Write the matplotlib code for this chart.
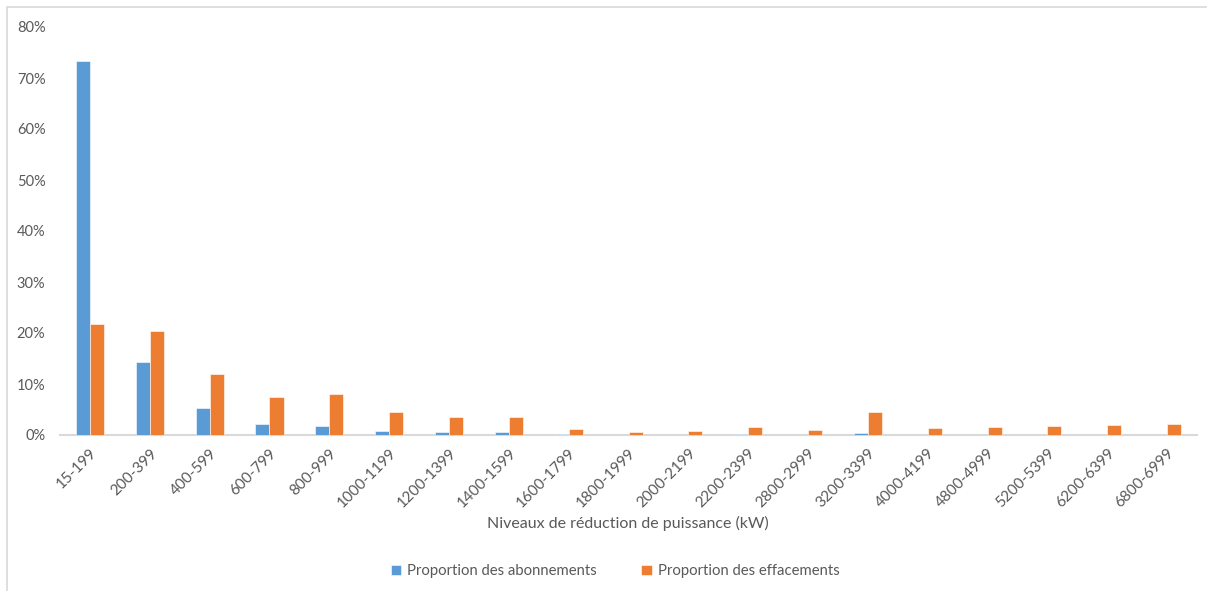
import matplotlib

matplotlib.use("Agg")
import matplotlib.pyplot as plt
import numpy as np
from matplotlib.patches import Rectangle

CATEGORIES = [
    "15-199", "200-399", "400-599", "600-799", "800-999", "1000-1199",
    "1200-1399", "1400-1599", "1600-1799", "1800-1999", "2000-2199",
    "2200-2399", "2800-2999", "3200-3399", "4000-4199", "4800-4999",
    "5200-5399", "6200-6399", "6800-6999",
]
# proportions in %
ABONNEMENTS = [73.3, 14.3, 5.2, 2.2, 1.8, 0.8, 0.5, 0.5, 0.1, 0.05, 0.05,
               0.1, 0.05, 0.3, 0.05, 0.05, 0.05, 0.05, 0.05]
EFFACEMENTS = [21.7, 20.3, 12.0, 7.5, 8.0, 4.45, 3.6, 3.5, 1.2, 0.6, 0.8,
               1.6, 1.0, 4.5, 1.3, 1.6, 1.7, 2.0, 2.2]
YTICKS = [0, 10, 20, 30, 40, 50, 60, 70, 80]

BLUE = "#5B9BD5"
ORANGE = "#ED7D31"
TEXT = "#595959"
LINE = "#D9D9D9"

plt.rcParams["font.family"] = ["Lato", "DejaVu Sans"]

fig = plt.figure(figsize=(12.07, 5.91), dpi=100)
ax = fig.add_axes([60 / 1207, 156 / 591, 1137 / 1207, 408 / 591])

x = np.arange(len(CATEGORIES))
w = 0.235
ax.bar(x - w / 2, ABONNEMENTS, w, color=BLUE, edgecolor="white", lw=0.4,
       label="Proportion des abonnements", zorder=3)
ax.bar(x + w / 2, EFFACEMENTS, w, color=ORANGE, edgecolor="white", lw=0.4,
       label="Proportion des effacements", zorder=3)

ax.set_xlim(-0.5, len(CATEGORIES) - 0.5)
ax.set_ylim(0, 80)
ax.set_yticks(YTICKS)
ax.set_yticklabels([f"{v}%" for v in YTICKS], color=TEXT, fontsize=10.5)
ax.set_xticks(x)
ax.set_xticklabels(CATEGORIES, rotation=45, ha="right", rotation_mode="anchor",
                   color=TEXT, fontsize=11)
ax.tick_params(length=0, pad=8)
ax.tick_params(axis="y", pad=10.5)
for s in ("top", "right", "left"):
    ax.spines[s].set_visible(False)
ax.spines["bottom"].set_color(LINE)
ax.spines["bottom"].set_linewidth(1.5)

fig.text(628 / 1207, 1 - 523 / 591, "Niveaux de réduction de puissance (kW)",
         ha="center", va="center", color=TEXT, fontsize=11.5)

fig.legend(loc="center", bbox_to_anchor=(615 / 1207, 1 - 571 / 591), ncol=2,
           frameon=False, fontsize=10.7, labelcolor=TEXT, handlelength=0.7,
           handleheight=0.7, handletextpad=0.4, columnspacing=3.0)

fig.patches.append(Rectangle((7 / 1207, -0.1), 1.2, 1.1 - 7 / 591,
                             transform=fig.transFigure, fill=False,
                             edgecolor=LINE, lw=1.2))

fig.savefig("out.png", dpi=100)
